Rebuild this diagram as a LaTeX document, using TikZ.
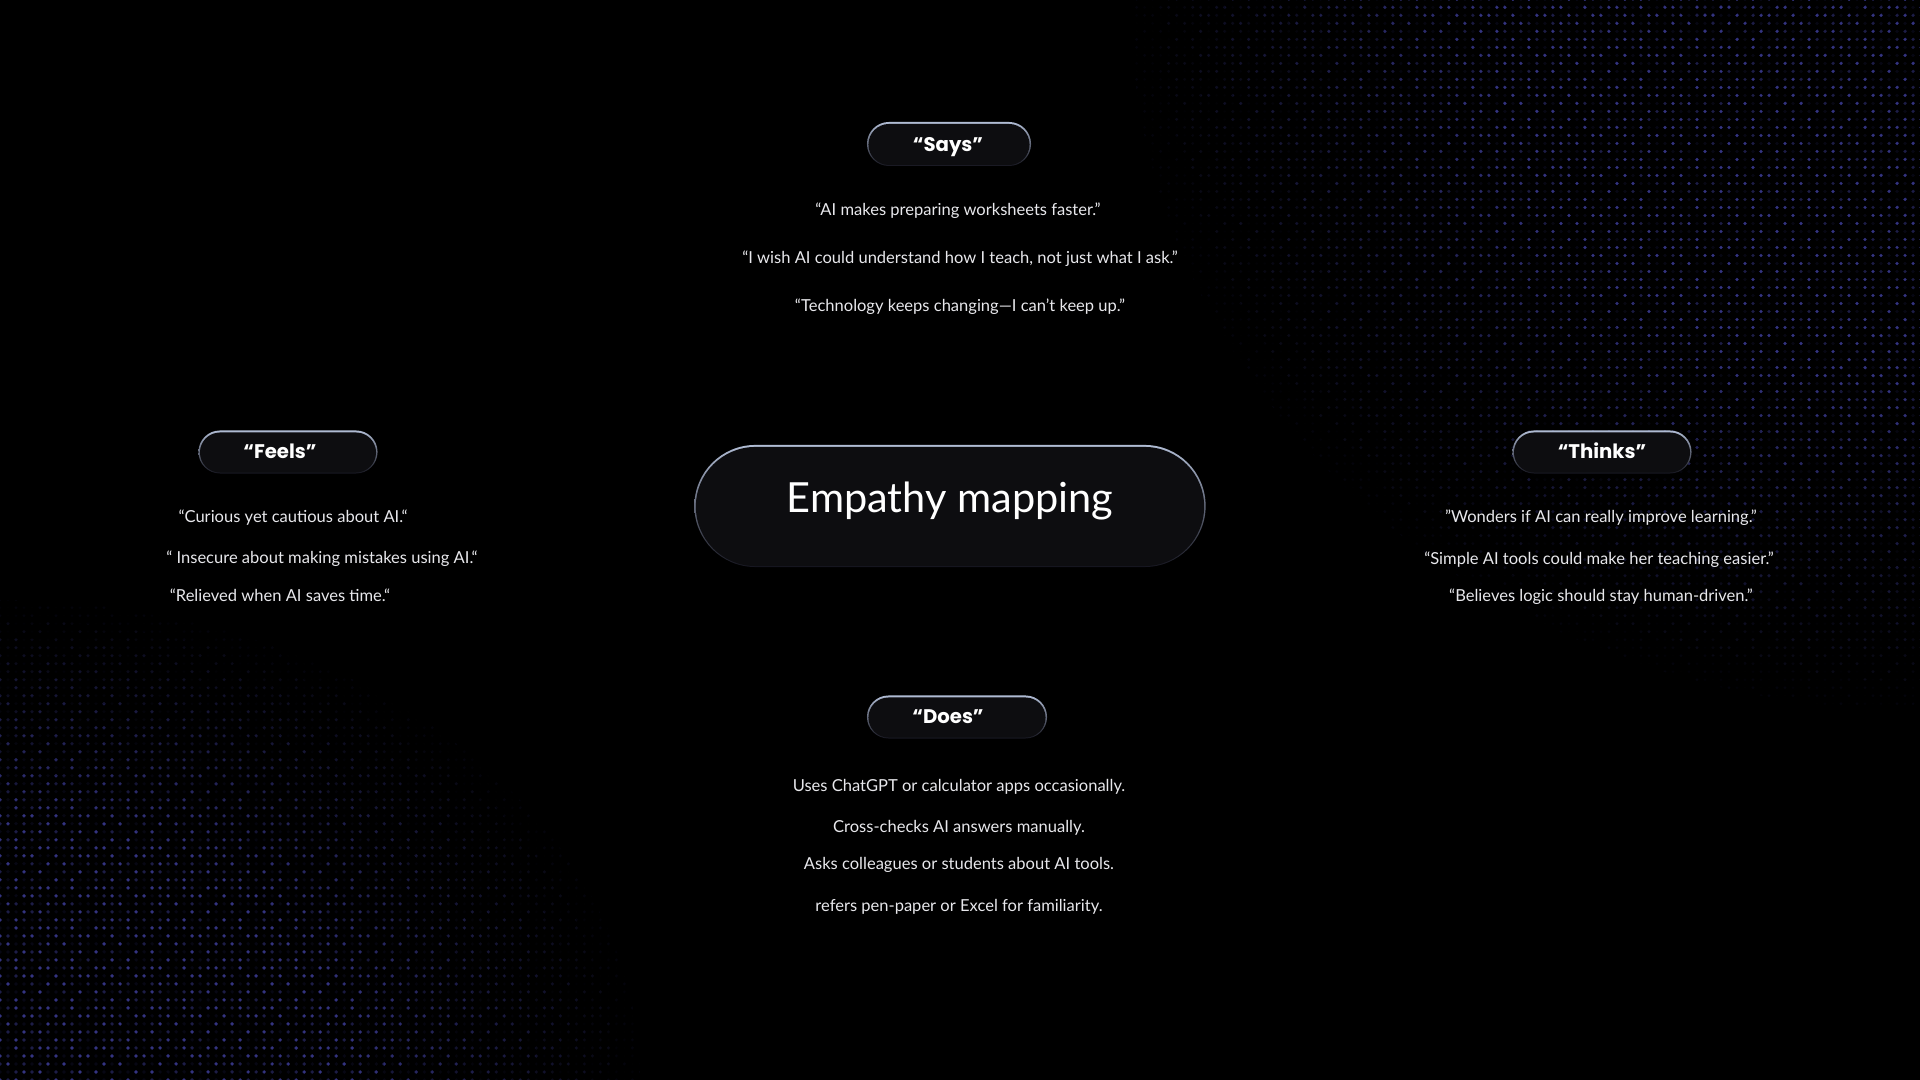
\documentclass[tikz,border=0pt]{standalone}
\usepackage{fontspec}
\setmainfont{Lato}
\newfontfamily\poppins{Poppins}
\usepackage{tikz}
\usetikzlibrary{shapes.misc, patterns, positioning}

\definecolor{dotblue}{RGB}{52,52,128}
\definecolor{rimtop}{RGB}{176,188,212}
\definecolor{rimbot}{RGB}{22,22,32}
\definecolor{pillfill}{RGB}{13,13,16}
\definecolor{quotegray}{RGB}{232,232,236}

% one grid step of the dot field (8px)
\def\cell{2.27622pt}
\def\dotr{0.46pt}
\newcommand{\griddot}[2]{\pgfpathcircle{\pgfpoint{#1*\cell}{#2*\cell}}{\dotr}}

\pgfdeclarepatternformonly{dimdots}{\pgfpoint{-1.2pt}{-1.2pt}}{\pgfpoint{1.2pt}{1.2pt}}{\pgfpoint{\cell}{\cell}}{%
  \griddot{0}{0}\pgfusepath{fill}}
\pgfdeclarepatternformonly{middots}{\pgfpoint{-1.13811pt}{-1.13811pt}}{\pgfpoint{10.24299pt}{5.69055pt}}{\pgfpoint{11.3811pt}{6.82866pt}}{%
  \griddot{1}{0}\griddot{4}{0}\griddot{2}{1}\griddot{4}{1}\griddot{0}{2}\griddot{3}{2}\pgfusepath{fill}}
\pgfdeclarepatternformonly{brightdots}{\pgfpoint{-1.13811pt}{-1.13811pt}}{\pgfpoint{14.79543pt}{10.24299pt}}{\pgfpoint{15.93354pt}{11.3811pt}}{%
  \griddot{0}{0}\griddot{2}{0}\griddot{3}{1}\griddot{5}{1}\griddot{6}{2}\griddot{1}{2}%
  \griddot{4}{3}\griddot{0}{3}\griddot{2}{4}\griddot{5}{4}\griddot{6}{4}\griddot{3}{3}\pgfusepath{fill}}

\begin{document}
\begin{tikzpicture}[x=0.01cm, y=-0.01cm,
    pillrim/.style={rounded rectangle, draw=none, top color=rimtop, bottom color=rimbot, inner sep=0pt},
    pillbody/.style={rounded rectangle, fill=pillfill, draw=none, inner sep=0pt},
    quote/.style={text=quotegray, font=\fontsize{4.7}{6}\selectfont, anchor=base, inner sep=0pt},
    tag/.style={text=white, font=\poppins\bfseries\fontsize{5.6}{7}\selectfont, anchor=base, inner sep=0pt}]

    % --- Background ---
    \fill[black] (0,0) rectangle (1920,1080);
    \useasboundingbox (0,0) rectangle (1920,1080);

    % --- Dot field in two corners, fading in bands ---
    \begin{scope}
      \clip (0,0) rectangle (1920,1080);
      \foreach \s in {1.00,0.96,...,0.55}{
        \pgfmathsetmacro\f{min(1,(1.04-\s)/0.48)}
        \foreach \pat/\amt in {dimdots/14, middots/55, brightdots/100}{
          \pgfmathsetmacro\c{\amt*\f}
          \fill[pattern=\pat, pattern color=dotblue!\c!black] (1920,0) ellipse[x radius=790*\s, y radius=710*\s];
          \fill[pattern=\pat, pattern color=dotblue!\c!black] (0,1080) ellipse[x radius=640*\s, y radius=480*\s];
        }
      }
    \end{scope}

    % --- Centre ---
    \node[pillrim, minimum width=5.11cm, minimum height=1.22cm] (titlerim) at (950,506) {};
    \node[pillbody, minimum width=5.08cm, minimum height=1.19cm] (titlebox) at (950,506.5) {};
    \node[text=white, font=\fontsize{11.8}{14}\selectfont, anchor=base, inner sep=0pt] (title) at (950,513) {Empathy mapping};

    % --- Says ---
    \node[pillrim, minimum width=1.64cm, minimum height=0.44cm] (saysrim) at (949,144) {};
    \node[pillbody, minimum width=1.61cm, minimum height=0.41cm] (saysbox) at (949,144.5) {};
    \node[tag] (says) at (948,152) {“Says”};
    \node[quote] (says1) at (958,216) {“AI makes preparing worksheets faster.”};
    \node[quote] (says2) at (960,264) {“I wish AI could understand how I teach, not just what I ask.”};
    \node[quote] (says3) at (960,312) {“Technology keeps changing—I can’t keep up.”};

    % --- Feels ---
    \node[pillrim, minimum width=1.79cm, minimum height=0.43cm] (feelsrim) at (288,452) {};
    \node[pillbody, minimum width=1.76cm, minimum height=0.40cm] (feelsbox) at (288,452.5) {};
    \node[tag] (feels) at (280,459) {“Feels”};
    \node[quote] (feels1) at (293,523) {“Curious yet cautious about AI.“};
    \node[quote] (feels2) at (322,564) {“ Insecure about making mistakes using AI.“};
    \node[quote] (feels3) at (280,602) {“Relieved when AI saves time.“};

    % --- Thinks ---
    \node[pillrim, minimum width=1.79cm, minimum height=0.43cm] (thinksrim) at (1602,452) {};
    \node[pillbody, minimum width=1.76cm, minimum height=0.40cm] (thinksbox) at (1602,452.5) {};
    \node[tag] (thinks) at (1602,459) {“Thinks”};
    \node[quote] (thinks1) at (1601,523) {"Wonders if AI can really improve learning."};
    \node[quote] (thinks2) at (1599,565) {“Simple AI tools could make her teaching easier."};
    \node[quote] (thinks3) at (1601,602) {“Believes logic should stay human-driven.”};

    % --- Does ---
    \node[pillrim, minimum width=1.80cm, minimum height=0.43cm] (doesrim) at (957,717) {};
    \node[pillbody, minimum width=1.77cm, minimum height=0.40cm] (doesbox) at (957,717.5) {};
    \node[tag] (does) at (948,724) {“Does”};
    \node[quote] (does1) at (959,792) {Uses ChatGPT or calculator apps occasionally.};
    \node[quote] (does2) at (959,833) {Cross-checks AI answers manually.};
    \node[quote] (does3) at (959,870) {Asks colleagues or students about AI tools.};
    \node[quote] (does4) at (959,912) {refers pen-paper or Excel for familiarity.};

\end{tikzpicture}
\end{document}
